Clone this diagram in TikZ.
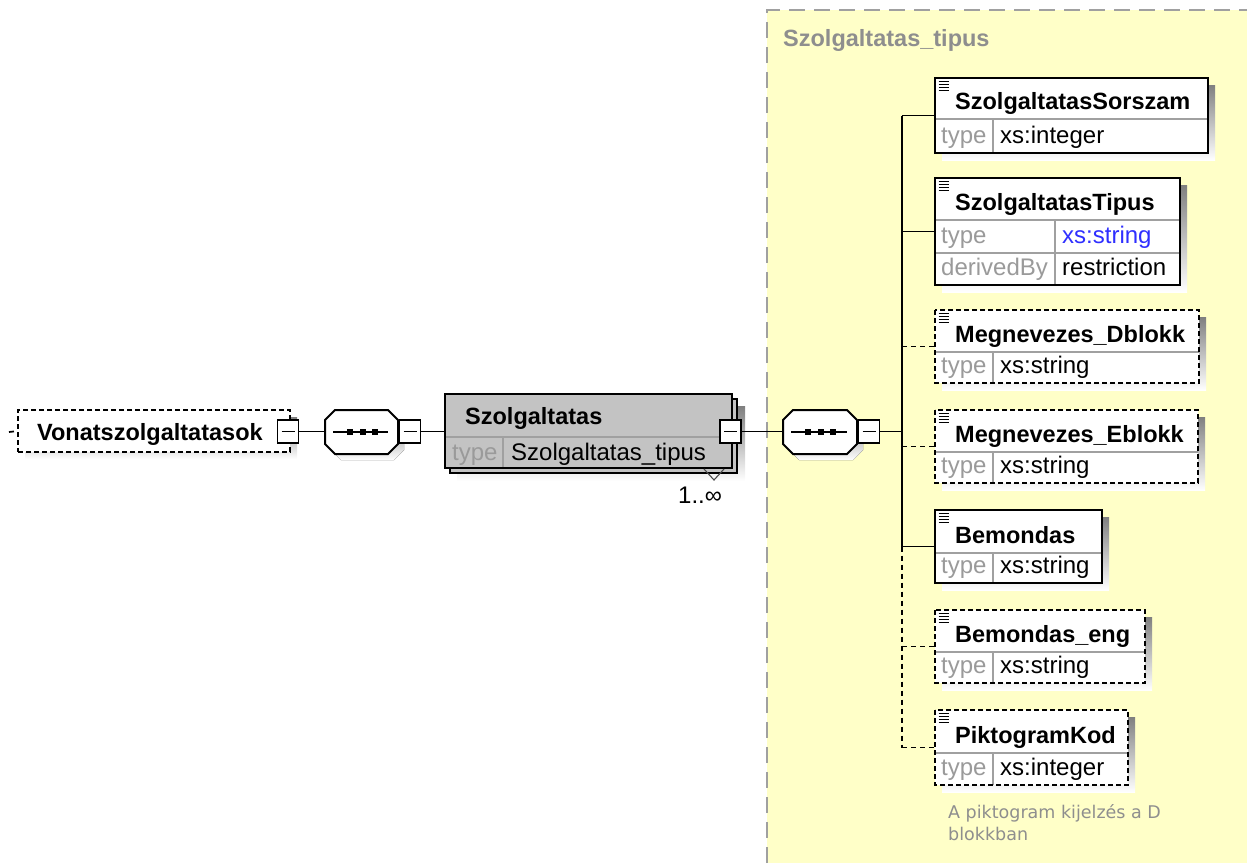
\documentclass[tikz,border=0pt]{standalone}
\usepackage{fontspec}
\setmainfont{Liberation Sans}
\newfontfamily\notefont{DejaVu Sans}
\usetikzlibrary{fit}

\definecolor{panelfill}{HTML}{FFFFC8}
\definecolor{panelline}{HTML}{A0A0A0}
\definecolor{shade}{HTML}{C0C0C0}
\definecolor{nodegray}{HTML}{C3C3C3}
\definecolor{rulegray}{HTML}{A0A0A0}
\definecolor{keygray}{HTML}{9A9A9A}
\definecolor{notegray}{HTML}{8E8E8E}
\definecolor{typeblue}{HTML}{2F2FFF}

\tikzset{
  conn/.style={line width=1.7pt, draw=black},
  dashconn/.style={conn, dash pattern=on 5pt off 4pt},
  solidborder/.style={line width=2pt, draw=black},
  dashborder/.style={line width=2pt, draw=black, dash pattern=on 5pt off 3pt},
  rule/.style={line width=1.4pt, draw=rulegray},
  doclines/.style={line width=0.9pt, draw=black},
  boxfit/.style={inner sep=0pt, outer sep=0pt},
  elname/.style={inner sep=0pt, font=\fontsize{23.5pt}{28pt}\selectfont\bfseries},
  keytext/.style={inner sep=0pt, text=keygray, font=\fontsize{24pt}{28pt}\selectfont},
  valtext/.style={inner sep=0pt, text=black, font=\fontsize{24pt}{28pt}\selectfont},
  panellabel/.style={inner sep=0pt, text=notegray, font=\fontsize{23.5pt}{28pt}\selectfont\bfseries},
  notetext/.style={inner sep=0pt, text=notegray, font=\notefont\fontsize{17.5pt}{22pt}\selectfont},
  expander/.style={draw=black, fill=white, line width=1.7pt, minimum width=21pt,
    minimum height=23pt, inner sep=0pt, outer sep=0pt,
    path picture={\draw[line width=1.5pt]
      ([xshift=4pt]path picture bounding box.west) --
      ([xshift=-4pt]path picture bounding box.east);}},
}

% octagon outline between left/top/right/bottom with corner cut #5
\newcommand\octpath[5]{({#1+#5},#2) -- ({#3-#5},#2) -- (#3,{#2+#5}) -- (#3,{#4-#5})
  -- ({#3-#5},#4) -- ({#1+#5},#4) -- (#1,{#4-#5}) -- (#1,{#2+#5}) -- cycle}

% sequence compositor: name, left, top, right, bottom
\newcommand\xsdSequence[5]{%
  \fill[shade] \octpath{#2+6}{#3+6}{#4+6}{#5+6}{10};
  \node[fit={(#2,#3) (#4,#5)}, boxfit] (#1) {};
  \draw[solidborder, fill=white] \octpath{#2}{#3}{#4}{#5}{10};
  \draw[conn] ({#2+8},{(#3+#5)/2}) -- ({#4-10},{(#3+#5)/2});
  \foreach \d in {25,38,50}
    \fill ({#2+\d-3},{(#3+#5)/2-3}) rectangle ({#2+\d+3},{(#3+#5)/2+3});
}

% element box: name, left, top, right, bottom, header rule y, title
\newcommand\xsdElement[7]{%
  \fill[shade] ({#2+7},{#3+7}) rectangle ({#4+7},{#5+7});
  \node[fit={(#2,#3) (#4,#5)}, boxfit, fill=white] (#1) {};
  \draw[rule] (#2,#6) -- (#4,#6);
  \foreach \k in {0,1,2,3}
    \draw[doclines] ({#2+3.5},{#3+3.5+3*\k}) -- ({#2+14},{#3+3.5+3*\k});
  \node[elname, anchor=base west] (#1-name) at ({#2+20},{#6-10}) {#7};
}

% property row: name, column rule x, row top, row bottom, key, value
\newcommand\xsdProp[6]{%
  \draw[rule] (#2,#3) -- (#2,#4);
  \node[keytext, anchor=base west] (#1-key) at (941,{#4-10}) {#5};
  \node[valtext, anchor=base west] (#1-val) at ({#2+7},{#4-10}) {#6};
}

\begin{document}
\begin{tikzpicture}[x=1pt, y=-1pt]
\useasboundingbox (0,0) rectangle (1247,863);

% complex type panel
\fill[panelfill] (767,10) rectangle (1247,863);
\draw[line width=2pt, draw=panelline, dash pattern=on 16pt off 9pt]
  (767,863) -- (767,10) -- (1247,10);
\node[panellabel, anchor=base west] (paneltitle) at (783,46) {Szolgaltatas\_tipus};

% root element
\coordinate (stub) at (9,432);
\fill[shade] (25,417) rectangle (297,459);
\node[fit={(18,410) (290,452)}, boxfit, fill=white, dashborder] (vonat) {};
\node[elname, anchor=base west] (vonat-name) at (37,440) {Vonatszolgaltatasok};
\node[expander] (xA) at (288,431.5) {};
\draw[conn, dash pattern=on 5pt off 30pt] (stub) -- (vonat.west);

% first sequence
\xsdSequence{seqA}{325}{410}{398}{454}
\node[expander] (xB) at (410,431.5) {};
\draw[conn] (xA.east) -- (xA.east -| seqA.west);

% repeated element Szolgaltatas
\fill[shade] (457,406) rectangle (745,481);
\node[fit={(450,399) (737,473)}, boxfit, fill=nodegray, solidborder] (szolgBack) {};
\node[fit={(445,394) (732,468)}, boxfit, fill=nodegray] (szolg) {};
\draw[rule] (445,437) -- (732,437);
\draw[rule] (503,437) -- (503,468);
\draw[solidborder] (szolg.north west) rectangle (szolg.south east);
\node[elname, anchor=base west] (szolg-name) at (465,424) {Szolgaltatas};
\node[keytext, anchor=base west] (szolg-key) at (452,460) {type};
\node[valtext, anchor=base west] (szolg-val) at (511,460) {Szolgaltatas\_tipus};
\draw[line width=1.1pt, draw=black!70] (704,469) -- (714,480) -- (724,469);
\node[valtext, anchor=base west] (szolg-mult) at (678,503) {1..∞};
\node[expander] (xC) at (730.5,431.5) {};
\draw[conn] (xB.east) -- (xB.east -| szolg.west);

% second sequence
\xsdSequence{seqB}{783}{410}{857}{454}
\node[expander] (xD) at (869,431.5) {};
\draw[conn] (xC.east) -- (xC.east -| seqB.west);
\coordinate (trunk) at (902,431.5);
\draw[conn] (xD.east) -- (trunk);

% child elements
\xsdElement{sorszam}{935}{78}{1208}{153}{119}{SzolgaltatasSorszam}
\xsdProp{sorszam}{993}{119}{153}{type}{xs:integer}
\draw[solidborder] (sorszam.north west) rectangle (sorszam.south east);

\xsdElement{tipus}{935}{178}{1180}{285}{220}{SzolgaltatasTipus}
\draw[rule] (935,253) -- (1180,253);
\xsdProp{tipus}{1055}{220}{253}{type}{\color{typeblue}xs:string}
\xsdProp{tipusb}{1055}{253}{285}{derivedBy}{restriction}
\draw[solidborder] (tipus.north west) rectangle (tipus.south east);

\xsdElement{dblokk}{935}{310}{1199}{383}{352}{Megnevezes\_Dblokk}
\xsdProp{dblokk}{993}{352}{383}{type}{xs:string}
\draw[dashborder] (dblokk.north west) rectangle (dblokk.south east);

\xsdElement{eblokk}{935}{410}{1198}{483}{452}{Megnevezes\_Eblokk}
\xsdProp{eblokk}{993}{452}{483}{type}{xs:string}
\draw[dashborder] (eblokk.north west) rectangle (eblokk.south east);

\xsdElement{bemondas}{935}{510}{1102}{583}{553}{Bemondas}
\xsdProp{bemondas}{993}{553}{583}{type}{xs:string}
\draw[solidborder] (bemondas.north west) rectangle (bemondas.south east);

\xsdElement{eng}{935}{610}{1145}{683}{652}{Bemondas\_eng}
\xsdProp{eng}{993}{652}{683}{type}{xs:string}
\draw[dashborder] (eng.north west) rectangle (eng.south east);

\xsdElement{pikto}{935}{710}{1128}{785}{753}{PiktogramKod}
\xsdProp{pikto}{993}{753}{785}{type}{xs:integer}
\draw[dashborder] (pikto.north west) rectangle (pikto.south east);

\node[notetext, anchor=base west] (pikto-note1) at (948,818) {A piktogram kijelzés a D};
\node[notetext, anchor=base west] (pikto-note2) at (948,840) {blokkban};

% trunk and branches
\draw[conn] (trunk |- sorszam.west) -- (trunk |- bemondas.west);
\draw[dashconn] (trunk |- bemondas.west) -- (trunk |- pikto.west);
\draw[conn] (trunk |- sorszam.west) -- (sorszam.west);
\draw[conn] (trunk |- tipus.west) -- (tipus.west);
\draw[dashconn] (trunk |- dblokk.west) -- (dblokk.west);
\draw[dashconn] (trunk |- eblokk.west) -- (eblokk.west);
\draw[conn] (trunk |- bemondas.west) -- (bemondas.west);
\draw[dashconn] (trunk |- eng.west) -- (eng.west);
\draw[dashconn] (trunk |- pikto.west) -- (pikto.west);
\end{tikzpicture}
\end{document}
